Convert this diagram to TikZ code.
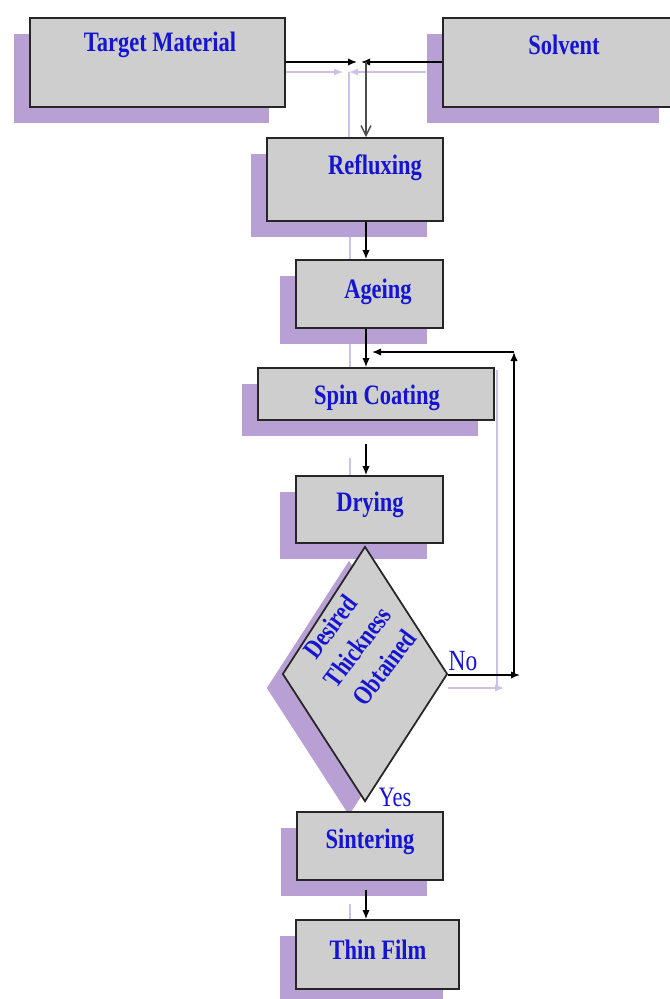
\documentclass[tikz,border=0pt]{standalone}
\usepackage{fontspec}
\usetikzlibrary{arrows.meta,shapes.geometric,shadows,calc}
\newfontfamily\boldlbl{Liberation Serif Bold}[FakeStretch=0.8]
\newfontfamily\plainlbl{Liberation Serif}[FakeStretch=0.8]
\definecolor{boxgray}{RGB}{206,206,206}
\definecolor{shade}{RGB}{184,160,212}
\definecolor{lineshade}{RGB}{206,194,228}
\definecolor{lblblue}{RGB}{20,20,210}
\pgfdeclarelayer{lineshadow}
\pgfsetlayers{lineshadow,main}

\begin{document}
\begin{tikzpicture}[x=0.03cm,y=-0.03cm,
  boxbase/.style={draw=black!85, line width=1.5pt, fill=boxgray, inner sep=0pt},
  box/.style 2 args={boxbase, minimum width=#1*0.03cm, minimum height=#2*0.03cm,
    general shadow={fill=shade, shadow xshift=-0.48cm, shadow yshift=-0.48cm}},
  decision/.style 2 args={boxbase, diamond, minimum width=#1*0.03cm, minimum height=#2*0.03cm,
    general shadow={fill=shade, shadow xshift=-0.48cm, shadow yshift=-0.42cm}},
  lbl/.style={text=lblblue, font=\boldlbl\fontsize{24}{26}\selectfont, inner sep=0pt},
  yn/.style={text=lblblue, font=\plainlbl\fontsize{25}{26}\selectfont, inner sep=0pt},
  arr/.style={draw=black, line width=1.2pt, -{Latex[length=0.27cm,width=0.22cm]}},
  openarr/.style={draw=black!70, line width=1.2pt, -{Straight Barb[length=0.3cm,width=0.3cm]}},
  shline/.style={draw=lineshade, line width=1.2pt},
  sharr/.style={shline, -{Latex[length=0.27cm,width=0.22cm]}}]

\useasboundingbox (0,0) rectangle (670,999);
\begin{pgfonlayer}{lineshadow}
  \fill[white] (0,0) rectangle (670,999);
\end{pgfonlayer}

% process boxes
\node[box={255}{89}]  (tm) at (157.5,62.5) {};
\node[box={232}{89}]  (sv) at (559,62.5) {};
\node[box={176}{83}]  (rf) at (355,179.5) {};
\node[box={147}{68}]  (ag) at (369.5,294) {};
\node[box={236}{52}]  (sc) at (376,394) {};
\node[box={147}{67}]  (dr) at (369.5,509.5) {};
\node[decision={165}{255}] (dm) at (365,674) {};
\node[box={146}{68}]  (st) at (370,846) {};
\node[box={163}{69}]  (tf) at (377.5,954.5) {};

% box texts
\node[lbl] (tm-t) at (160,45)  {Target Material};
\node[lbl] (sv-t) at (564,45)  {Solvent};
\node[lbl] (rf-t) at (375,168) {Refluxing};
\node[lbl] (ag-t) at (378,292) {Ageing};
\node[lbl] (sc-t) at (377,398) {Spin Coating};
\node[lbl] (dr-t) at (370,505) {Drying};
\node[lbl, rotate=53, align=center, font=\boldlbl\fontsize{23}{29}\selectfont]
     (dm-t) at (357,647) {Desired\\Thickness\\Obtained};
\node[lbl] (st-t) at (370,842) {Sintering};
\node[lbl] (tf-t) at (378,950) {Thin Film};
\node[yn] (no)  at (463,661) {No};
\node[yn, font=\plainlbl\fontsize{24}{26}\selectfont] (yes) at (395,797) {Yes};

% junction and loop points
\coordinate (jn) at (366,62);
\coordinate (jl) at (357,62);
\coordinate (jr) at (361,62);
\coordinate (fb) at (372,352);
\coordinate (nr) at (520,675);
\coordinate (c1) at (514,675);
\coordinate (c2) at (514,352);
\coordinate (scout) at (366,444);
\coordinate (stout) at (366,890);

% connectors
\draw[arr] (tm.east |- jl) -- (jl);
\draw[arr] (sv.west |- jr) -- (jr);
\draw[openarr] (jn) -- (jn |- rf.north);
\draw[arr] (rf.south -| jn) -- (ag.north -| jn);
\draw[arr] (ag.south -| jn) -- (sc.north -| jn);
\draw[arr] (scout) -- (dr.north -| scout);
\draw[arr] (dm.east |- nr) -- (nr);
\draw[arr] (c1) -- (c2);
\draw[arr] (c2) -- (fb);
\draw[arr] (stout) -- (tf.north -| stout);

% faint offset copies of the connectors
\begin{pgfonlayer}{lineshadow}
  \draw[sharr] ($(tm.east |- jl)+(-16,10)$) -- ($(jl)+(-14,10)$);
  \draw[sharr] ($(sv.west |- jr)+(-16,10)$) -- ($(jr)+(-12,10)$);
  \draw[shline] ($(jn)+(-17,10)$) -- ($(jn |- rf.north)+(-17,2)$);
  \draw[shline] ($(rf.south -| jn)+(-16,14)$) -- ($(ag.north -| jn)+(-16,14)$);
  \draw[shline] ($(ag.south -| jn)+(-16,14)$) -- ($(sc.north -| jn)+(-16,14)$);
  \draw[shline] ($(scout)+(-16,14)$) -- ($(dr.north -| scout)+(-16,14)$);
  \draw[sharr] ($(dm.east |- nr)+(0,13)$) -- ($(nr)+(-16,13)$);
  \draw[shline] ($(c1)+(-17,13)$) -- ($(c2)+(-17,18)$);
  \draw[shline] ($(stout)+(-16,14)$) -- ($(tf.north -| stout)+(-16,14)$);
\end{pgfonlayer}
\end{tikzpicture}
\end{document}
